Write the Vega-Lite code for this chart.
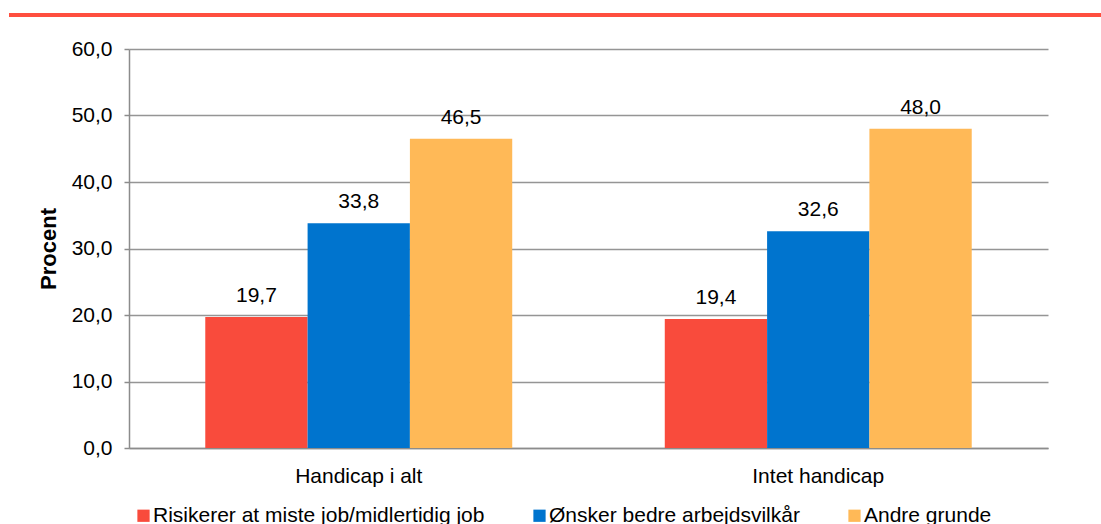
{
  "$schema": "https://vega.github.io/schema/vega-lite/v6.json",
  "width": 919,
  "height": 399,
  "autosize": {"type": "none"},
  "padding": {"left": 129, "top": 49, "right": 53, "bottom": 76},
  "background": "white",
  "config": {
    "locale": {"number": {"decimal": ",", "thousands": ".", "grouping": [3], "currency": ["", " kr."]}},
    "view": {"stroke": null},
    "font": "Liberation Sans"
  },
  "data": {
    "values": [
      {"gruppe": "Handicap i alt", "aarsag": "Risikerer at miste job/midlertidig job", "procent": 19.7},
      {"gruppe": "Handicap i alt", "aarsag": "Ønsker bedre arbejdsvilkår", "procent": 33.8},
      {"gruppe": "Handicap i alt", "aarsag": "Andre grunde", "procent": 46.5},
      {"gruppe": "Intet handicap", "aarsag": "Risikerer at miste job/midlertidig job", "procent": 19.4},
      {"gruppe": "Intet handicap", "aarsag": "Ønsker bedre arbejdsvilkår", "procent": 32.6},
      {"gruppe": "Intet handicap", "aarsag": "Andre grunde", "procent": 48.0}
    ]
  },
  "layer": [
    {
      "data": {"values": [{}]},
      "mark": {"type": "rule", "color": "#FF4F3F", "strokeWidth": 4, "clip": false},
      "encoding": {
        "x": {"value": -120},
        "x2": {"value": 972},
        "y": {"value": -34}
      }
    },
    {
      "mark": {"type": "bar"},
      "encoding": {
        "x": {
          "field": "gruppe", "type": "nominal", "sort": null,
          "scale": {"paddingInner": 0.332, "paddingOuter": 0.166},
          "axis": {
            "title": null, "labelAngle": 0, "labelFontSize": 21, "labelColor": "#000000",
            "ticks": false, "domainColor": "#8c8c8c", "domainWidth": 1.5, "labelPadding": 17, "grid": false
          }
        },
        "xOffset": {
          "field": "aarsag", "type": "nominal",
          "sort": ["Risikerer at miste job/midlertidig job", "Ønsker bedre arbejdsvilkår", "Andre grunde"],
          "scale": {"paddingInner": 0, "paddingOuter": 0}
        },
        "y": {
          "field": "procent", "type": "quantitative",
          "scale": {"domain": [0, 60]},
          "axis": {
            "title": "Procent", "titleFontSize": 22, "titleFontWeight": "bold", "titleColor": "#000000",
            "titlePadding": 11, "values": [0, 10, 20, 30, 40, 50, 60], "format": ".1f",
            "labelFontSize": 21, "labelColor": "#000000", "labelPadding": 12,
            "grid": true, "gridColor": "#959595", "gridWidth": 1.5,
            "domainColor": "#8c8c8c", "domainWidth": 1.5, "tickColor": "#8c8c8c", "tickSize": 5, "tickWidth": 1.5
          }
        },
        "color": {
          "field": "aarsag", "type": "nominal",
          "scale": {
            "domain": ["Risikerer at miste job/midlertidig job", "Ønsker bedre arbejdsvilkår", "Andre grunde"],
            "range": ["#F94B3C", "#0074CE", "#FFB957"]
          },
          "legend": {
            "orient": "none", "legendX": 4, "legendY": 456, "direction": "horizontal", "columns": 3,
            "title": null, "symbolType": "square", "symbolSize": 150, "symbolStrokeWidth": 0,
            "labelFontSize": 21, "labelColor": "#000000", "labelOffset": -1, "columnPadding": 44,
            "labelLimit": 0
          }
        }
      }
    },
    {
      "mark": {"type": "text", "baseline": "alphabetic", "dy": -15, "fontSize": 21, "color": "#000000"},
      "encoding": {
        "x": {"field": "gruppe", "type": "nominal", "sort": null},
        "xOffset": {
          "field": "aarsag", "type": "nominal",
          "sort": ["Risikerer at miste job/midlertidig job", "Ønsker bedre arbejdsvilkår", "Andre grunde"]
        },
        "y": {"field": "procent", "type": "quantitative"},
        "text": {"field": "procent", "type": "quantitative", "format": ".1f"}
      }
    }
  ]
}
